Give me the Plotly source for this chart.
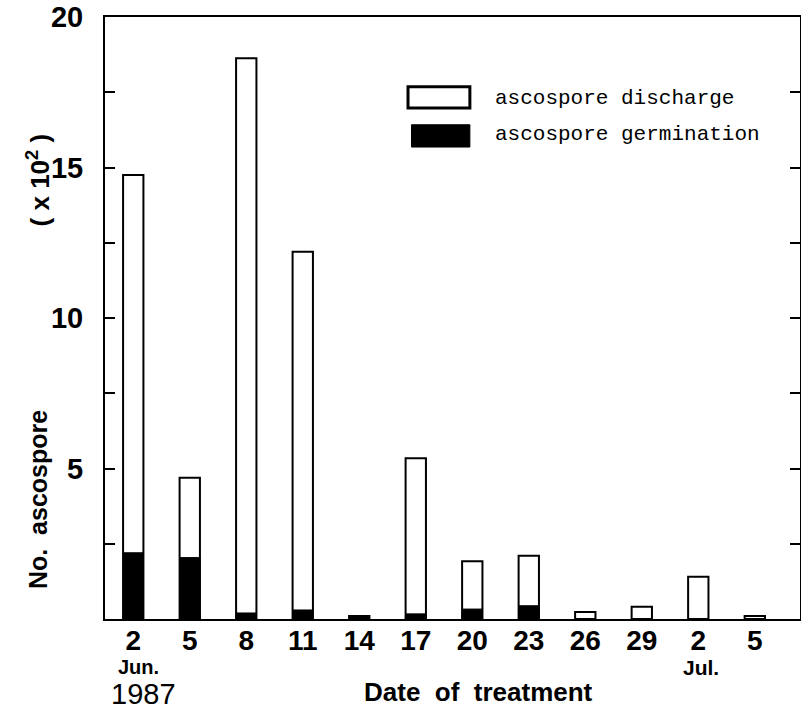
import plotly.graph_objects as go

dates = ["2 Jun", "5 Jun", "8 Jun", "11 Jun", "14 Jun", "17 Jun", "20 Jun",
         "23 Jun", "26 Jun", "29 Jun", "2 Jul", "5 Jul"]
tick_labels = ["2", "5", "8", "11", "14", "17", "20", "23", "26", "29", "2", "5"]
discharge = [14.75, 4.69, 18.63, 12.2, 0.1, 5.34, 1.92, 2.1, 0.23, 0.41, 1.4, 0.1]
germination = [2.2, 2.04, 0.2, 0.3, 0.05, 0.17, 0.33, 0.44, 0.0, 0.0, 0.0, 0.0]

xpos = list(range(len(dates)))
BOLD = "Liberation Sans"

fig = go.Figure()
fig.add_trace(go.Bar(x=xpos, y=discharge, name="ascospore discharge", width=0.36,
                     marker=dict(color="white", line=dict(color="black", width=2)),
                     hovertext=dates))
fig.add_trace(go.Bar(x=xpos, y=germination, name="ascospore germination", width=0.36,
                     marker=dict(color="black", line=dict(color="black", width=1)),
                     hovertext=dates))

yt = [i * 2.5 for i in range(9)]
ytt = ["" if (v % 5 or v == 0) else str(int(v)) for v in yt]

fig.update_layout(
    width=801, height=712,
    margin=dict(l=105, r=1, t=17, b=93, autoexpand=False),
    paper_bgcolor="white", plot_bgcolor="white",
    barmode="overlay", showlegend=False,
    xaxis=dict(range=[-0.5, 11.8], tickvals=xpos, ticktext=tick_labels,
               showline=True, linecolor="black", linewidth=2, mirror=True,
               ticks="", showgrid=False, zeroline=False, automargin=False,
               ticklabelstandoff=-5,
               tickfont=dict(family=BOLD, size=28, color="black", weight="bold")),
    yaxis=dict(range=[0, 20], tickvals=yt, ticktext=ytt,
               showline=True, linecolor="black", linewidth=2, mirror="ticks",
               ticks="inside", ticklen=10, tickwidth=2, tickcolor="black",
               showgrid=False, zeroline=False, ticklabelstandoff=14, automargin=False,
               tickfont=dict(family=BOLD, size=29, color="black", weight="bold")),
)

ann = [
    dict(x=0.1, y=-0.08, xref="x", yref="paper", text="<b>Jun.</b>", font=dict(family=BOLD, size=20)),
    dict(x=0.18, y=-0.125, xref="x", yref="paper", text="1987", font=dict(family=BOLD, size=29)),
    dict(x=10.05, y=-0.08, xref="x", yref="paper", text="<b>Jul.</b>", font=dict(family=BOLD, size=21)),
    dict(x=0.537, y=-0.122, xref="paper", yref="paper", text="<b>Date  of  treatment</b>",
         font=dict(family=BOLD, size=26)),
    dict(x=-0.096, y=0.198, xref="paper", yref="paper", textangle=-90,
         text="<b>No.  ascospore</b>", font=dict(family=BOLD, size=25)),
    dict(x=-0.096, y=0.729, xref="paper", yref="paper", textangle=-90,
         text="<b>( x 10<sup>2</sup> )</b>", font=dict(family=BOLD, size=26)),
    dict(x=0.558, y=0.865, xref="paper", yref="paper", xanchor="left", text="ascospore discharge",
         font=dict(family="Liberation Mono", size=21)),
    dict(x=0.558, y=0.804, xref="paper", yref="paper", xanchor="left", text="ascospore germination",
         font=dict(family="Liberation Mono", size=21)),
]
for a in ann:
    a.setdefault("showarrow", False)
    a.setdefault("xanchor", "center")
    a["yanchor"] = "middle"
    a["font"]["color"] = "black"
    fig.add_annotation(**a)

fig.add_shape(type="rect", xref="paper", yref="paper", x0=0.436, x1=0.525, y0=0.849, y1=0.884,
              line=dict(color="black", width=3), fillcolor="white")
fig.add_shape(type="rect", xref="paper", yref="paper", x0=0.441, x1=0.525, y0=0.784, y1=0.821,
              line=dict(color="black", width=1), fillcolor="black")

fig.write_html("out.html", config={"displayModeBar": False},
               post_script="document.body.style.margin='0';document.body.style.overflow='hidden';")
